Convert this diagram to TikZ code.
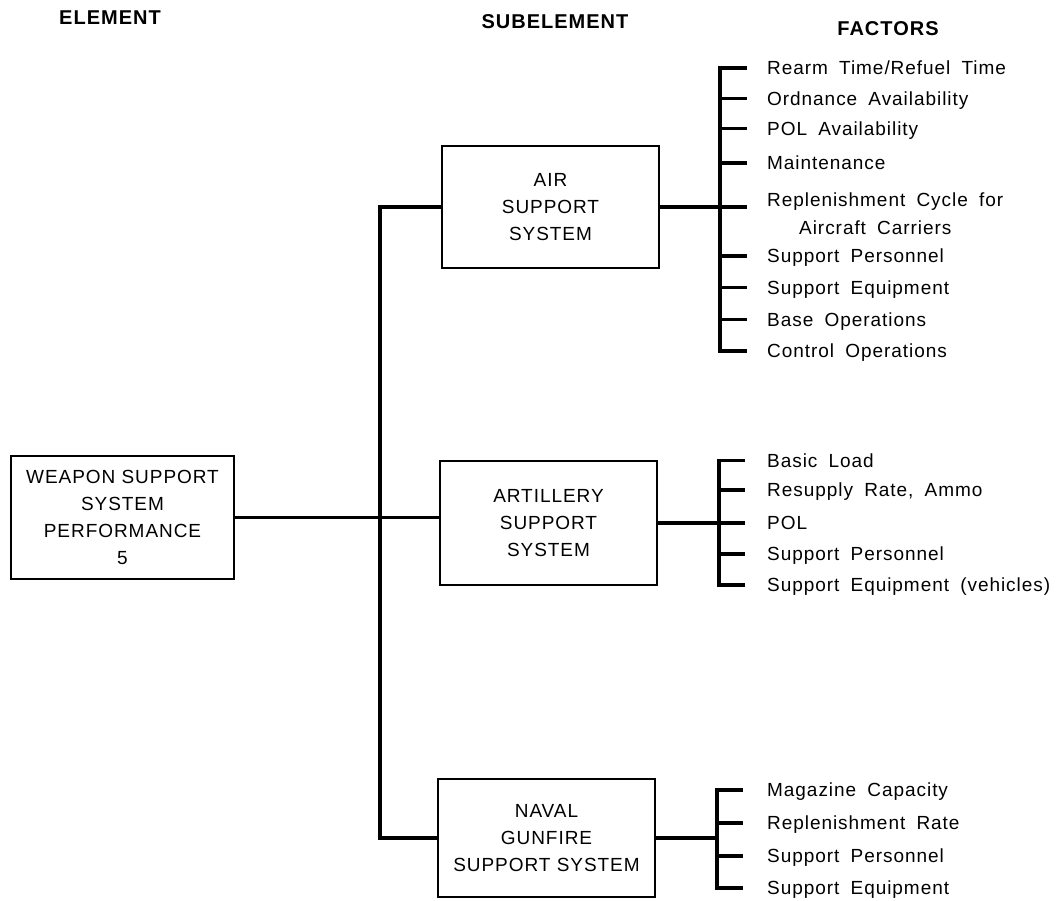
\documentclass[tikz,border=0pt]{standalone}
\usepackage{fontspec}
\setmainfont{Liberation Sans}[LetterSpace=5]
\newfontfamily\facfam{Liberation Sans}[LetterSpace=5, WordSpace=1.8]
\newcommand\boxfont{\fontsize{19pt}{27pt}\selectfont}
\newcommand\facfont{\facfam\fontsize{19pt}{28pt}\selectfont}
\newcommand\hdfont{\fontsize{20pt}{24pt}\selectfont\bfseries}
\begin{document}
\begin{tikzpicture}[x=1pt,y=-1pt,
  box/.style={draw, line width=2.2pt, align=center, inner sep=0pt, font=\boxfont},
  hdr/.style={inner sep=0pt, font=\hdfont},
  fac/.style={anchor=west, inner sep=0pt, text height=13.6pt, text depth=0pt, font=\facfont},
  conn/.style={line width=3.2pt}]
\useasboundingbox (0,0) rectangle (1061,901);
\fill[white] (0,0) rectangle (1061,901);

% headers
\node[hdr] (h1) at (110,17.5) {ELEMENT};
\node[hdr] (h2) at (555,22) {SUBELEMENT};
\node[hdr] (h3) at (888,29) {FACTORS};

% boxes
\node[box, minimum width=223pt, minimum height=123pt] (weapon) at (122.5,517.5) {WEAPON SUPPORT\\SYSTEM\\PERFORMANCE\\5};
\node[box, minimum width=217pt, minimum height=122pt] (air) at (550.5,207) {AIR\\SUPPORT\\SYSTEM};
\node[box, minimum width=217pt, minimum height=124pt] (art) at (548.5,523) {ARTILLERY\\SUPPORT\\SYSTEM};
\node[box, minimum width=217pt, minimum height=118pt] (nav) at (546.5,838) {NAVAL\\GUNFIRE\\SUPPORT SYSTEM};

% air factors
\node[fac] (a1) at (767,68) {Rearm Time/Refuel Time};
\node[fac] (a2) at (767,98.5) {Ordnance Availability};
\node[fac] (a3) at (767,128.5) {POL Availability};
\node[fac] (a4) at (767,163) {Maintenance};
\node[anchor=base west, inner sep=0pt, align=left, font=\facfont] (a5) at (767,234.8) {Replenishment Cycle for\\\hspace*{32pt}Aircraft Carriers};
\node[fac] (a6) at (767,256) {Support Personnel};
\node[fac] (a7) at (767,287.5) {Support Equipment};
\node[fac] (a8) at (767,319.5) {Base Operations};
\node[fac] (a9) at (767,351) {Control Operations};

% artillery factors
\node[fac] (b1) at (767,460.5) {Basic Load};
\node[fac] (b2) at (767,490) {Resupply Rate, Ammo};
\node[fac] (b3) at (767,523) {POL};
\node[fac] (b4) at (767,554) {Support Personnel};
\node[fac] (b5) at (767,585) {Support Equipment (vehicles)};

% naval factors
\node[fac] (c1) at (767,790) {Magazine Capacity};
\node[fac] (c2) at (767,823) {Replenishment Rate};
\node[fac] (c3) at (767,856) {Support Personnel};
\node[fac] (c4) at (767,888) {Support Equipment};

% main connectors
\coordinate (bus) at (380,0);
\draw[conn] (air.west) -- (air.west -| bus) -- (nav.west -| bus) -- (nav.west);
\draw[conn] (weapon.east) -- (art.west |- weapon.east);

% air bracket
\coordinate (ab) at ([xshift=-47pt]a1.west);
\coordinate (at) at ([xshift=-20pt]a1.west);
\draw[conn] (air.east) -- (at |- air.east);
\draw[conn] (a1.west -| at) -- (a1.west -| ab) -- (a9.west -| ab) -- (a9.west -| at);
\foreach \n in {a2,a3,a4,a6,a7,a8} \draw[conn] (\n.west -| ab) -- (\n.west -| at);

% artillery bracket
\coordinate (bb) at ([xshift=-48pt]b1.west);
\coordinate (bt) at ([xshift=-22pt]b1.west);
\draw[conn] (art.east) -- (art.east -| bb);
\draw[conn] (b1.west -| bt) -- (b1.west -| bb) -- (b5.west -| bb) -- (b5.west -| bt);
\foreach \n in {b2,b3,b4} \draw[conn] (\n.west -| bb) -- (\n.west -| bt);

% naval bracket
\coordinate (cb) at ([xshift=-50pt]c1.west);
\coordinate (ct) at ([xshift=-24pt]c1.west);
\draw[conn] (nav.east) -- (nav.east -| cb);
\draw[conn] (c1.west -| ct) -- (c1.west -| cb) -- (c4.west -| cb) -- (c4.west -| ct);
\foreach \n in {c2,c3} \draw[conn] (\n.west -| cb) -- (\n.west -| ct);
\end{tikzpicture}
\end{document}
